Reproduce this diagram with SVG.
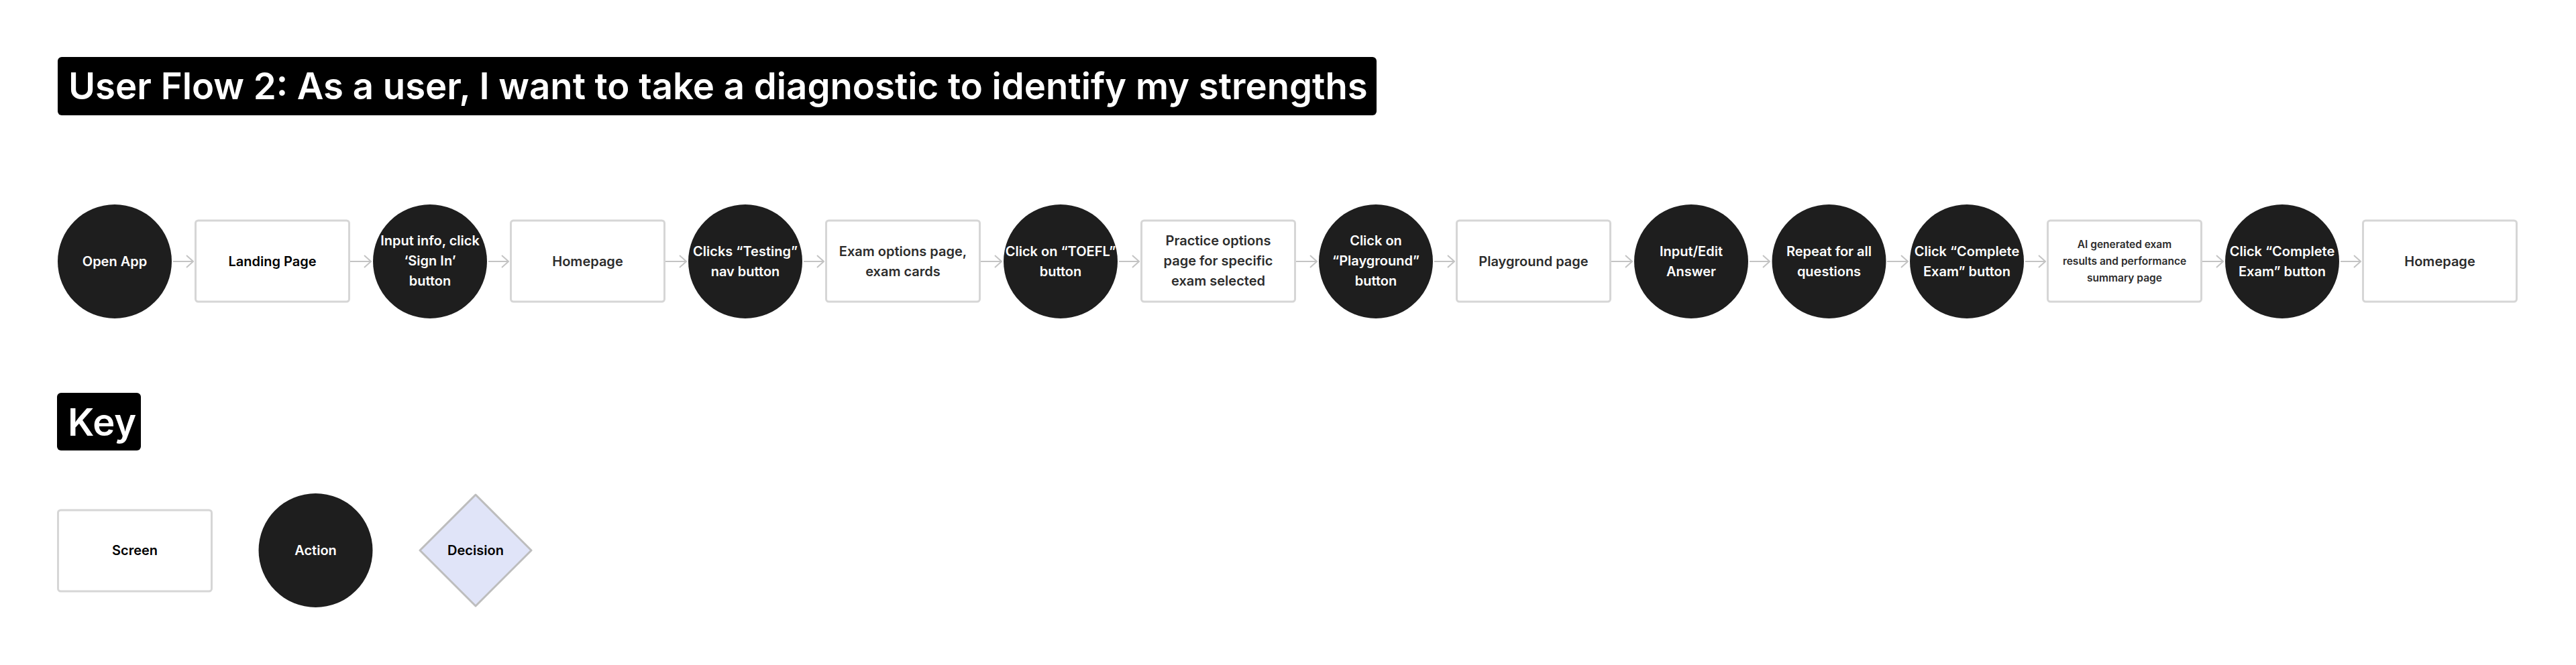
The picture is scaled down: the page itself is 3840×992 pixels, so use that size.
<svg xmlns="http://www.w3.org/2000/svg" width="3840" height="992" viewBox="0 0 3840 992">
<style>
.title{font-family:Inter,"Liberation Sans",sans-serif;font-weight:600;fill:#fff}
.scr{fill:#fff;stroke:#d6d6d6;stroke-width:3}
.act{fill:#1e1e1e}
.t{font-family:Inter,"Liberation Sans",sans-serif;font-weight:600;font-size:20px;text-anchor:middle}
.tw{fill:#fff}
.td{fill:#2c2c2c}
.tb{fill:#000}
.sm{font-size:15.5px}
.conn line{stroke:#c4c4c4;stroke-width:2;fill:none}
</style>
<defs>
<marker id="ah" viewBox="0 0 12 20" refX="11" refY="10" markerWidth="12" markerHeight="20" markerUnits="userSpaceOnUse" orient="auto">
<path d="M1,1 L11,10 L1,19" fill="none" stroke="#c4c4c4" stroke-width="2"/>
</marker>
</defs>
<rect width="3840" height="992" fill="#fff"/>
<g id="title">
<rect x="86" y="85" width="1966" height="87" rx="6" fill="#000"/>
<text class="title" x="102" y="148" font-size="54.5">User Flow 2: As a user, I want to take a diagnostic to identify my strengths</text>
</g>
<g class="conn" id="connectors">
<line x1="258" y1="390" x2="288" y2="390" marker-end="url(#ah)"/>
<line x1="522" y1="390" x2="553" y2="390" marker-end="url(#ah)"/>
<line x1="728" y1="390" x2="758" y2="390" marker-end="url(#ah)"/>
<line x1="992" y1="390" x2="1023" y2="390" marker-end="url(#ah)"/>
<line x1="1198" y1="390" x2="1228" y2="390" marker-end="url(#ah)"/>
<line x1="1462" y1="390" x2="1493" y2="390" marker-end="url(#ah)"/>
<line x1="1668" y1="390" x2="1698" y2="390" marker-end="url(#ah)"/>
<line x1="1932" y1="390" x2="1963" y2="390" marker-end="url(#ah)"/>
<line x1="2138" y1="390" x2="2168" y2="390" marker-end="url(#ah)"/>
<line x1="2402" y1="390" x2="2433" y2="390" marker-end="url(#ah)"/>
<line x1="2608" y1="390" x2="2638" y2="390" marker-end="url(#ah)"/>
<line x1="2813" y1="390" x2="2844" y2="390" marker-end="url(#ah)"/>
<line x1="3019" y1="390" x2="3049" y2="390" marker-end="url(#ah)"/>
<line x1="3283" y1="390" x2="3314" y2="390" marker-end="url(#ah)"/>
<line x1="3489" y1="390" x2="3519" y2="390" marker-end="url(#ah)"/>
</g>
<g id="n1"><circle class="act" cx="171" cy="390" r="85"/><text class="t tw" x="171" y="397">Open App</text></g>
<g id="n2"><rect class="scr" x="291.5" y="329" width="229" height="121" rx="4"/><text class="t tb" x="406" y="397">Landing Page</text></g>
<g id="n3"><circle class="act" cx="641" cy="390" r="85"/><text class="t tw" x="641" y="366">Input info, click</text><text class="t tw" x="641" y="396">‘Sign In’</text><text class="t tw" x="641" y="426">button</text></g>
<g id="n4"><rect class="scr" x="761.5" y="329" width="229" height="121" rx="4"/><text class="t td" x="876" y="397">Homepage</text></g>
<g id="n5"><circle class="act" cx="1111" cy="390" r="85"/><text class="t tw" x="1111" y="382">Clicks “Testing”</text><text class="t tw" x="1111" y="412">nav button</text></g>
<g id="n6"><rect class="scr" x="1231.5" y="329" width="229" height="121" rx="4"/><text class="t td" x="1346" y="382">Exam options page,</text><text class="t td" x="1346" y="412">exam cards</text></g>
<g id="n7"><circle class="act" cx="1581" cy="390" r="85"/><text class="t tw" x="1581" y="382">Click on “TOEFL”</text><text class="t tw" x="1581" y="412">button</text></g>
<g id="n8"><rect class="scr" x="1701.5" y="329" width="229" height="121" rx="4"/><text class="t td" x="1816" y="366">Practice options</text><text class="t td" x="1816" y="396">page for specific</text><text class="t td" x="1816" y="426">exam selected</text></g>
<g id="n9"><circle class="act" cx="2051" cy="390" r="85"/><text class="t tw" x="2051" y="366">Click on</text><text class="t tw" x="2051" y="396">“Playground”</text><text class="t tw" x="2051" y="426">button</text></g>
<g id="n10"><rect class="scr" x="2171.5" y="329" width="229" height="121" rx="4"/><text class="t td" x="2286" y="397">Playground page</text></g>
<g id="n11"><circle class="act" cx="2521" cy="390" r="85"/><text class="t tw" x="2521" y="382">Input/Edit</text><text class="t tw" x="2521" y="412">Answer</text></g>
<g id="n12"><circle class="act" cx="2726.5" cy="390" r="85"/><text class="t tw" x="2726.5" y="382">Repeat for all</text><text class="t tw" x="2726.5" y="412">questions</text></g>
<g id="n13"><circle class="act" cx="2932" cy="390" r="85"/><text class="t tw" x="2932" y="382">Click “Complete</text><text class="t tw" x="2932" y="412">Exam” button</text></g>
<g id="n14"><rect class="scr" x="3052.5" y="329" width="229" height="121" rx="4"/><text class="t td sm" x="3167" y="370">AI generated exam</text><text class="t td sm" x="3167" y="395">results and performance</text><text class="t td sm" x="3167" y="420">summary page</text></g>
<g id="n15"><circle class="act" cx="3402" cy="390" r="85"/><text class="t tw" x="3402" y="382">Click “Complete</text><text class="t tw" x="3402" y="412">Exam” button</text></g>
<g id="n16"><rect class="scr" x="3522.5" y="329" width="229" height="121" rx="4"/><text class="t td" x="3637" y="397">Homepage</text></g>
<g id="key-title">
<rect x="85" y="586" width="125" height="86" rx="6" fill="#000"/>
<text class="title" x="101" y="650" font-size="56">Key</text>
</g>
<g id="key-screen"><rect class="scr" x="86.5" y="761" width="229" height="121" rx="4"/><text class="t tb" x="201" y="828">Screen</text></g>
<g id="key-action"><circle class="act" cx="470.5" cy="821" r="85"/><text class="t tw" x="470.5" y="828">Action</text></g>
<g id="key-decision"><path d="M709,738 L792,821 L709,904 L626,821 Z" fill="#e0e4f8" stroke="#bdbdbd" stroke-width="3" stroke-linejoin="round"/><text class="t tb" x="709" y="828">Decision</text></g>
</svg>
